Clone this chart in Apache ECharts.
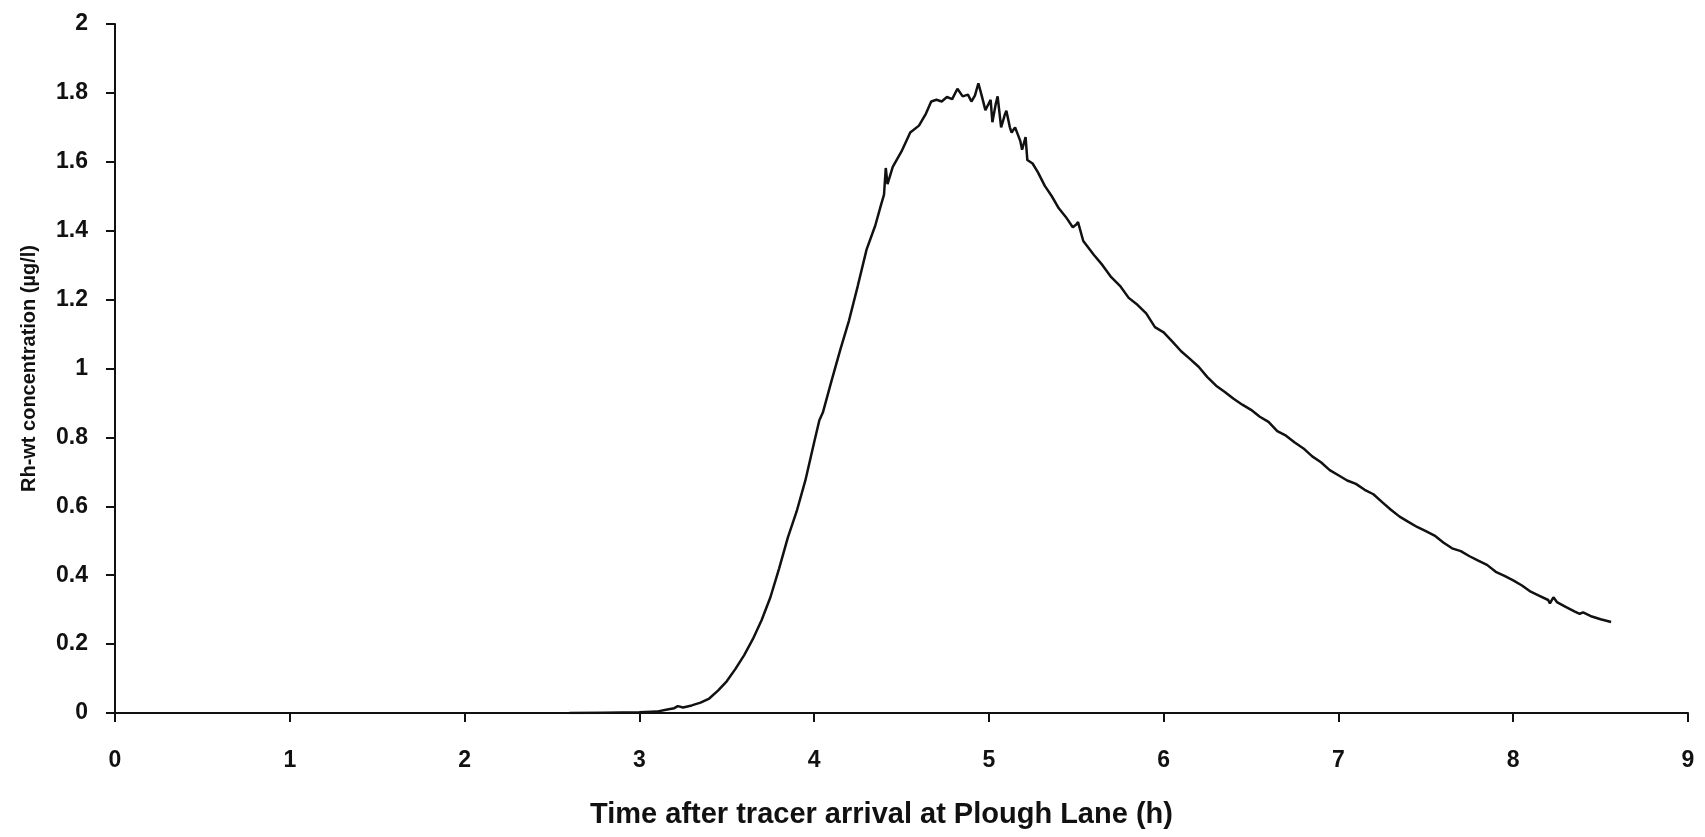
<!DOCTYPE html>
<html>
<head>
<meta charset="utf-8">
<script src="https://cdn.jsdelivr.net/npm/echarts@6/dist/echarts.min.js"></script>
<style>
html,body{margin:0;padding:0;background:#fff;}
#chart{width:1705px;height:837px;}
</style>
</head>
<body>
<div id="chart"></div>
<script>
const timeH = [2.60,2.80,3.00,3.10,3.16,3.20,3.22,3.25,3.30,3.35,3.40,3.45,3.50,3.55,3.60,3.65,3.70,3.75,3.80,3.85,3.90,3.95,4.00,4.03,4.05,4.10,4.15,4.20,4.25,4.30,4.35,4.38,4.40,4.41,4.42,4.45,4.50,4.55,4.60,4.64,4.67,4.70,4.73,4.76,4.79,4.82,4.85,4.88,4.90,4.92,4.94,4.96,4.98,5.00,5.01,5.02,5.04,5.05,5.07,5.09,5.10,5.12,5.13,5.15,5.16,5.18,5.19,5.21,5.22,5.25,5.28,5.32,5.36,5.40,5.44,5.48,5.50,5.51,5.54,5.60,5.65,5.70,5.75,5.80,5.85,5.90,5.95,6.00,6.05,6.10,6.15,6.20,6.25,6.30,6.35,6.40,6.45,6.50,6.55,6.60,6.65,6.70,6.75,6.80,6.85,6.90,6.95,7.00,7.05,7.10,7.15,7.20,7.25,7.30,7.35,7.40,7.45,7.50,7.55,7.60,7.65,7.70,7.75,7.80,7.85,7.90,7.95,8.00,8.05,8.10,8.15,8.20,8.21,8.23,8.25,8.30,8.35,8.38,8.40,8.45,8.50,8.56];
const concentration = [0.000,0.001,0.002,0.004,0.010,0.014,0.020,0.016,0.022,0.030,0.042,0.065,0.092,0.128,0.168,0.215,0.270,0.336,0.420,0.510,0.585,0.675,0.785,0.850,0.872,0.965,1.055,1.140,1.240,1.345,1.415,1.470,1.505,1.582,1.535,1.585,1.630,1.685,1.705,1.740,1.775,1.780,1.775,1.788,1.782,1.812,1.790,1.795,1.775,1.792,1.828,1.790,1.750,1.770,1.780,1.715,1.770,1.790,1.700,1.735,1.748,1.700,1.685,1.700,1.695,1.660,1.635,1.672,1.605,1.595,1.570,1.530,1.500,1.465,1.440,1.410,1.418,1.425,1.370,1.330,1.300,1.265,1.240,1.205,1.185,1.160,1.120,1.105,1.078,1.050,1.028,1.005,0.975,0.950,0.932,0.912,0.895,0.880,0.860,0.845,0.818,0.805,0.785,0.768,0.745,0.728,0.705,0.690,0.675,0.665,0.648,0.635,0.612,0.590,0.570,0.555,0.540,0.528,0.515,0.495,0.478,0.470,0.455,0.442,0.430,0.410,0.398,0.385,0.370,0.352,0.340,0.328,0.318,0.336,0.322,0.308,0.295,0.288,0.292,0.280,0.272,0.264];
const xTitle = 'Time after tracer arrival at Plough Lane (h)';
const yTitle = 'Rh-wt concentration (µg/l)';

const seriesData = timeH.map((t, i) => [t, concentration[i]]);
const font = '"Liberation Sans Narrow", "Liberation Sans", sans-serif';
const ink = '#111';

const chart = echarts.init(document.getElementById('chart'), null, {renderer: 'canvas'});
chart.setOption({
  backgroundColor: '#fff',
  animation: false,
  grid: {left: 115, right: 17, top: 24, bottom: 124, containLabel: false},
  xAxis: {
    type: 'value', min: 0, max: 9, interval: 1,
    name: xTitle, nameLocation: 'middle', nameGap: 87,
    nameTextStyle: {fontFamily: font, fontWeight: 'bold', fontSize: 29, color: ink, padding: [0, 40, 0, 0]},
    axisLine: {onZero: false, lineStyle: {color: ink, width: 2}},
    axisTick: {show: true, length: 9, lineStyle: {color: ink, width: 2}},
    axisLabel: {fontFamily: font, fontWeight: 'bold', fontSize: 23, color: ink, margin: 36},
    splitLine: {show: false}
  },
  yAxis: {
    type: 'value', min: 0, max: 2, interval: 0.2,
    name: yTitle, nameLocation: 'middle', nameGap: 76, nameRotate: 90,
    nameTextStyle: {fontFamily: font, fontWeight: 'bold', fontSize: 20, color: ink},
    axisLine: {show: true, lineStyle: {color: ink, width: 2}},
    axisTick: {show: true, length: 9, lineStyle: {color: ink, width: 2}},
    axisLabel: {fontFamily: font, fontWeight: 'bold', fontSize: 23, color: ink, margin: 27},
    splitLine: {show: false}
  },
  series: [{
    type: 'line',
    data: seriesData,
    showSymbol: false,
    smooth: false,
    lineStyle: {color: ink, width: 2.5},
    z: 3
  }]
});
</script>
</body>
</html>
